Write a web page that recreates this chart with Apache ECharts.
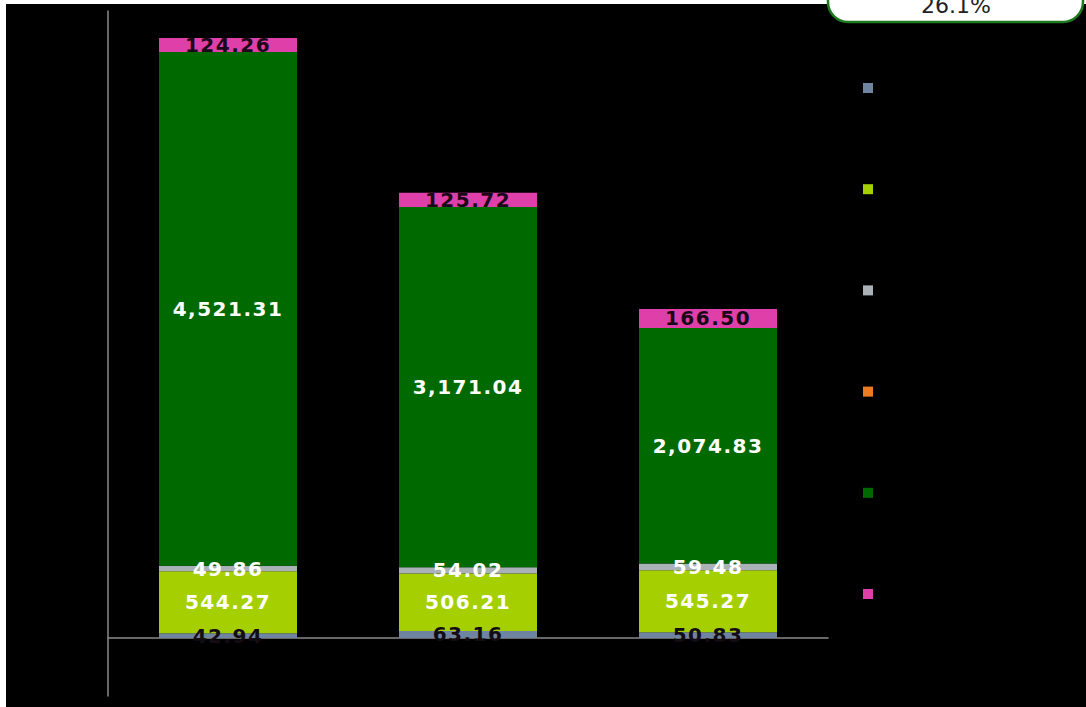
<!DOCTYPE html>
<html>
<head>
<meta charset="utf-8">
<script src="https://cdn.jsdelivr.net/npm/echarts@6/dist/echarts.min.js"></script>
<style>
  html, body { margin: 0; padding: 0; background: #ffffff; }
  #chart { width: 1086px; height: 707px; }
  /* wider tracking for the bar value labels */
  #chart text { letter-spacing: 1.5px; }
  #chart text.callout { letter-spacing: 0; }
</style>
</head>
<body>
<div id="chart"></div>
<script>
// Groups along the x axis
const categories = ['Group 1', 'Group 2', 'Group 3'];

// Stacked segments, bottom to top
const seriesNames = ['Segment 1', 'Segment 2', 'Segment 3', 'Segment 4', 'Segment 5', 'Segment 6'];
const segment1 = [42.94, 63.16, 50.83];
const segment2 = [544.27, 506.21, 545.27];
const segment3 = [49.86, 54.02, 59.48];
const segment4 = [0, 0, 0];
const segment5 = [4521.31, 3171.04, 2074.83];
const segment6 = [124.26, 125.72, 166.50];

// Share shown in the callout box
const calloutText = '26.1%';

const seriesValues = [segment1, segment2, segment3, segment4, segment5, segment6];
const seriesColors = ['#6f84a0', '#a6cf00', '#aab2b8', '#ee7a22', '#006a00', '#de3fa8'];
const labelColors = ['#140c14', '#ffffff', '#ffffff', '#ffffff', '#ffffff', '#1a0818'];

function fmt(v) {
  if (!v) return '';
  return v.toLocaleString('en-US', { minimumFractionDigits: 2, maximumFractionDigits: 2 });
}

const chart = echarts.init(document.getElementById('chart'), null, { renderer: 'svg' });

chart.setOption({
  backgroundColor: '#000000',
  animation: false,
  grid: { left: 108, right: 258, top: 11, bottom: 11 },
  legend: {
    orient: 'vertical',
    left: 858,
    top: 78,
    itemWidth: 10,
    itemHeight: 10,
    itemGap: 91.2,
    icon: 'rect',
    formatter: function () { return ''; },
    data: seriesNames
  },
  xAxis: {
    type: 'category',
    data: categories,
    axisLine: { onZero: true, lineStyle: { color: '#8a8a8a', width: 1.5 } },
    axisTick: { show: false },
    axisLabel: { show: false },
    splitLine: { show: false }
  },
  yAxis: {
    type: 'value',
    min: -510,
    max: 5520,
    axisLine: { show: true, lineStyle: { color: '#8a8a8a', width: 1.5 } },
    axisTick: { show: false },
    axisLabel: { show: false },
    splitLine: { show: false }
  },
  series: seriesNames.map(function (name, i) {
    return {
      name: name,
      type: 'bar',
      stack: 'total',
      barWidth: 138,
      data: seriesValues[i],
      itemStyle: { color: seriesColors[i] },
      label: {
        show: true,
        position: 'inside',
        color: labelColors[i],
        fontFamily: 'DejaVu Sans',
        fontWeight: 'bold',
        fontSize: 20,
        formatter: function (p) { return fmt(p.value); }
      }
    };
  }),
  graphic: [
    { type: 'rect', left: 0, top: 0, shape: { width: 6, height: 707 }, style: { fill: '#ffffff' }, silent: true },
    { type: 'rect', left: 0, top: 0, shape: { width: 1086, height: 4 }, style: { fill: '#ffffff' }, silent: true },
    {
      type: 'rect',
      shape: { x: 828, y: -32, width: 255, height: 54, r: 20 },
      style: { fill: '#ffffff', stroke: '#1d7a1d', lineWidth: 2.5 },
      silent: true
    },
    {
      type: 'text',
      id: 'callout',
      style: {
        x: 956, y: 5,
        text: calloutText,
        align: 'center',
        verticalAlign: 'middle',
        fill: '#222222',
        fontFamily: 'DejaVu Sans',
        fontSize: 22
      },
      silent: true
    }
  ]
});

// keep normal tracking on the callout figure
document.querySelectorAll('#chart text').forEach(function (t) {
  if (t.textContent === calloutText) t.setAttribute('class', 'callout');
});
</script>
</body>
</html>
